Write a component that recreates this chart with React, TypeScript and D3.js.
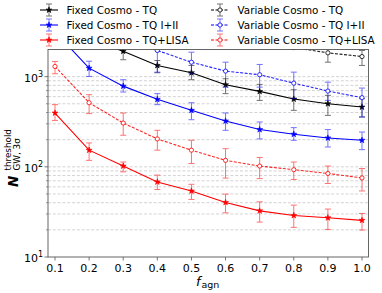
import React from "react";
import * as d3 from "d3";

const fagn = [0.1, 0.2, 0.3, 0.4, 0.5, 0.6, 0.7, 0.8, 0.9, 1.0];

const fixedTQ = [3800, 2600, 1914, 1331, 1104, 813, 686, 564, 501, 460];
const fixedTQLo = [3300, 2200, 1540, 1104, 925, 648, 545, 423, 372, 357];
const fixedTQHi = [4300, 3000, 2300, 1510, 1331, 948, 820, 716, 620, 570];

const fixedI = [3140, 1242, 785, 560, 423, 322, 259, 230, 209, 197];
const fixedILo = [2700, 1005, 675, 489, 333, 254, 204, 197, 166, 155];
const fixedIHi = [3600, 1483, 925, 648, 514, 395, 314, 272, 259, 243];

const fixedL = [395, 153, 102, 68, 54, 40.3, 32.5, 28.9, 27.2, 25.5];
const fixedLLo = [327, 118, 88, 56, 43.5, 30.9, 24.4, 21.3, 20.2, 19.9];
const fixedLHi = [489, 184, 113, 81, 64, 49.8, 40.9, 37.6, 34, 30.4];

const varTQ = [5500, 4700, 4000, 3400, 3000, 2700, 2400, 2100, 1837, 1671];
const varTQLo = [4500, 3900, 3300, 2800, 2500, 2200, 2050, 2000, 1446, 1331];
const varTQHi = [6500, 5500, 4700, 4000, 3500, 3200, 2800, 2550, 2200, 1950];

const varI = [4500, 3500, 2600, 1950, 1446, 1152, 1050, 847, 692, 585];
const varILo = [3800, 2900, 2100, 1122, 1077, 765, 765, 570, 545, 357];
const varIHi = [5200, 4100, 3100, 2800, 1866, 1446, 1365, 1122, 869, 747];

const varL = [1297, 514, 306, 204, 153, 118, 102, 93, 84.4, 75.3];
const varLLo = [1077, 389, 224, 153, 109, 75, 74, 72.4, 65.3, 54];
const varLHi = [1473, 631, 395, 254, 197, 159, 127, 113, 102, 95.7];

const xTicks = [0.1, 0.2, 0.3, 0.4, 0.5, 0.6, 0.7, 0.8, 0.9, 1.0];
const xTickLabels = ["0.1", "0.2", "0.3", "0.4", "0.5", "0.6", "0.7", "0.8", "0.9", "1.0"];
const yMajor = [10, 100, 1000];
const yMajorExp = ["1", "2", "3"];

const series = [
  { name: "Fixed Cosmo - TQ", v: fixedTQ, lo: fixedTQLo, hi: fixedTQHi, color: "#000000", dashed: false },
  { name: "Fixed Cosmo - TQ I+II", v: fixedI, lo: fixedILo, hi: fixedIHi, color: "#0000ff", dashed: false },
  { name: "Fixed Cosmo - TQ+LISA", v: fixedL, lo: fixedLLo, hi: fixedLHi, color: "#ff0000", dashed: false },
  { name: "Variable Cosmo - TQ", v: varTQ, lo: varTQLo, hi: varTQHi, color: "#000000", dashed: true },
  { name: "Variable Cosmo - TQ I+II", v: varI, lo: varILo, hi: varIHi, color: "#0000ff", dashed: true },
  { name: "Variable Cosmo - TQ+LISA", v: varL, lo: varLLo, hi: varLHi, color: "#ff0000", dashed: true },
];

const W = 382, H = 293;
const L = 48, R = 368.5, T = 49.5, B = 257;

export default function App() {
  const x = d3.scaleLinear().domain([0.1, 1.0]).range([55, 362]);
  const y = d3.scaleLog().domain([10, 2000]).range([B, T]);
  const line = d3.line<number>().x((_, i) => x(fagn[i])).y((d) => y(d));
  const star = d3.symbol().type(d3.symbolStar).size(11)() as string;
  const font = "DejaVu Sans, sans-serif";

  const grid: number[] = [];
  for (let dec = 10; dec <= 1000; dec *= 10) {
    for (let k = 1; k <= 9; k++) {
      const v = dec * k;
      if (v > 10 && v < 2000) grid.push(v);
    }
  }
  const minor = grid.filter((v) => !yMajor.includes(v));

  const marker = (cx: number, cy: number, s: any, key?: string) =>
    s.dashed ? (
      <circle key={key} cx={cx} cy={cy} r={2.1} fill="white" stroke={s.color} strokeWidth={0.8} />
    ) : (
      <path key={key} d={star} transform={`translate(${cx},${cy})`} fill={s.color} stroke={s.color} strokeWidth={0.6} />
    );

  const legendPos = [
    [40, 10], [40, 25], [40, 40],
    [211, 10], [211, 25], [211, 40],
  ];

  return (
    <svg width={W} height={H} style={{ position: "absolute", left: 0, top: 0 }} fontFamily={font}>
      <rect width={W} height={H} fill="white" />
      <defs>
        <clipPath id="plot">
          <rect x={L} y={T} width={R - L} height={B - T} />
        </clipPath>
      </defs>
      {grid.map((v) => (
        <line key={v} x1={L} x2={R} y1={y(v)} y2={y(v)} stroke="#c8c8c8" strokeWidth={0.8} strokeDasharray="3,1.8" />
      ))}
      <g clipPath="url(#plot)">
        {series.map((s, si) => (
          <g key={si}>
            <path d={line(s.v) as string} fill="none" stroke={s.color} strokeWidth={1.1}
              strokeDasharray={s.dashed ? "3,1.5" : undefined} opacity={s.dashed ? 0.85 : 1} />
            {s.v.map((_, i) => {
              const cx = x(fagn[i]);
              const y1 = y(s.lo[i]), y2 = y(s.hi[i]);
              return (
                <g key={i} stroke={s.color} strokeWidth={1} opacity={0.55}>
                  <line x1={cx} x2={cx} y1={y1} y2={y2} />
                  <line x1={cx - 3} x2={cx + 3} y1={y1} y2={y1} />
                  <line x1={cx - 3} x2={cx + 3} y1={y2} y2={y2} />
                </g>
              );
            })}
            {s.v.map((d, i) => marker(x(fagn[i]), y(d), s, `m${i}`))}
          </g>
        ))}
      </g>
      {/* frame */}
      <rect x={L} y={T} width={R - L} height={B - T} fill="none" stroke="#555" strokeWidth={0.9} />
      {/* x ticks */}
      {xTicks.map((t, i) => (
        <g key={t}>
          <line x1={x(t)} x2={x(t)} y1={B} y2={B + 3.5} stroke="#555" strokeWidth={0.8} />
          <text x={x(t)} y={271.5} fontSize={11} textAnchor="middle" fill="#000">{xTickLabels[i]}</text>
        </g>
      ))}
      {/* y ticks */}
      {yMajor.map((t, i) => (
        <g key={t}>
          <line x1={L - 3.5} x2={L} y1={y(t)} y2={y(t)} stroke="#555" strokeWidth={0.8} />
          <text x={43} y={y(t) + 5} fontSize={11} textAnchor="end" fill="#000">
            10<tspan dy={-5} fontSize={8}>{yMajorExp[i]}</tspan>
          </text>
        </g>
      ))}
      {minor.map((t) => (
        <line key={t} x1={L - 2} x2={L} y1={y(t)} y2={y(t)} stroke="#555" strokeWidth={0.6} />
      ))}
      {/* y label */}
      <g transform="translate(0,187) rotate(-90)">
        <text x={0} y={17.5} fontSize={13.5} fontStyle="italic" fontWeight="bold">N</text>
        <text x={16.5} y={10.5} fontSize={8.8}>threshold</text>
        <text x={16.5} y={19.5} fontSize={8.8}>GW, 3σ</text>
      </g>
      {/* x label */}
      <text x={196} y={285.5} fontSize={13} fontStyle="italic">f</text>
      <text x={201.5} y={287.5} fontSize={9.5}>agn</text>
      {/* legend */}
      {series.map((s, i) => {
        const [lx, ly] = legendPos[i];
        const cx = lx + 9;
        return (
          <g key={i}>
            <line x1={lx} x2={lx + 18} y1={ly} y2={ly} stroke={s.color} strokeWidth={1.1}
              strokeDasharray={s.dashed ? "3,1.5" : undefined} />
            <g stroke={s.color} strokeWidth={1} opacity={0.55}>
              <line x1={cx} x2={cx} y1={ly - 6} y2={ly + 6} />
              <line x1={cx - 3} x2={cx + 3} y1={ly - 6} y2={ly - 6} />
              <line x1={cx - 3} x2={cx + 3} y1={ly + 6} y2={ly + 6} />
            </g>
            {marker(cx, ly, s)}
            <text x={lx + 26.5} y={ly + 3.8} fontSize={10.4} fill="#000">{s.name}</text>
          </g>
        );
      })}
    </svg>
  );
}
